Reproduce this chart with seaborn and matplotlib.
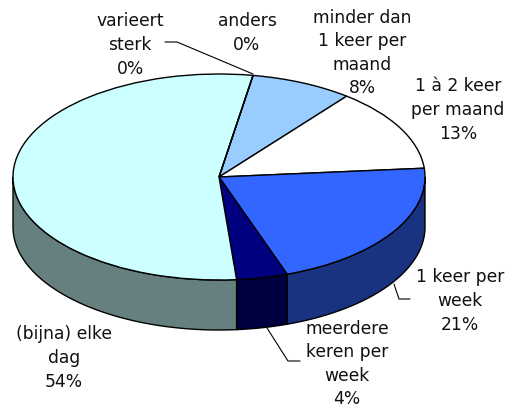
import numpy as np
import seaborn as sns
import matplotlib.pyplot as plt
from matplotlib.patches import Polygon

# values clockwise, starting at the top slice
slice_names = ["minder dan\n1 keer per\nmaand", "1 à 2 keer\nper maand", "1 keer per\nweek",
               "meerdere\nkeren per\nweek", "(bijna) elke\ndag", "varieert\nsterk", "anders"]
slice_values = [8, 13, 21, 4, 54, 0, 0]
top_colors = ["#99CCFF", "#FFFFFF", "#3366FF", "#000080", "#CCFFFF", "#FFFFFF", "#FFFFFF"]
side_colors = ["#4D6680", "#808080", "#1A3380", "#000040", "#668080", "#808080", "#808080"]

# label centres in pixels of the 515x410 picture
label_x = [362, 458, 460, 347, 64, 130, 247]
label_y = [53, 110, 301, 364, 358, 45, 33]

WIDTH, HEIGHT = 515, 410
CX, CY, RX, RY, DEPTH = 219, 178, 206, 103, 50
START = 80.5


def px(x, y):
    # picture pixels to pie units
    return (x - CX) / RX, (CY - y) / RY


sns.set_theme(style="white")
plt.rcParams['font.family'] = ['DejaVu Sans']

fig = plt.figure(figsize=(WIDTH / 100, HEIGHT / 100), dpi=100)
ax = fig.add_axes([0, 0, 1, 1])

depth = DEPTH / RY

# walls of the slices, only the front half can be seen
edges = START - np.cumsum([0] + slice_values) * 3.6
for i in range(len(slice_values)):
    a1, a2 = edges[i + 1], edges[i]
    # bring the front half (180..360) into the same turn as the slice
    shift = 360 * np.ceil((a1 - 360) / 360)
    lo = max(a1, 180 + shift)
    hi = min(a2, 360 + shift)
    if slice_values[i] == 0 or lo >= hi:
        continue
    t = np.radians(np.linspace(lo, hi, 80))
    top = np.column_stack([np.cos(t), np.sin(t)])
    low = top[::-1] - [0, depth]
    ax.add_patch(Polygon(np.vstack([top, low]), closed=True, facecolor=side_colors[i],
                         edgecolor="black", linewidth=1, zorder=1))

wedges, _ = ax.pie(slice_values, colors=top_colors, startangle=START, counterclock=False,
                   radius=1, wedgeprops={"edgecolor": "black", "linewidth": 1})
for w in wedges:
    w.set_zorder(2)

ax.set_aspect("auto")
ax.set_xlim(px(0, 0)[0], px(WIDTH, 0)[0])
ax.set_ylim(px(0, HEIGHT)[1], px(0, 0)[1])
ax.axis("off")

for name, value, x, y in zip(slice_names, slice_values, label_x, label_y):
    ax.text(*px(x, y), f"{name}\n{value}%", ha="center", va="center", fontsize=12.3,
            color="#111111", linespacing=1.4, zorder=5)

# leader lines
leaders = [[(165, 43), (177, 43), (253, 75)],
           [(410, 300), (399, 300), (394, 285)],
           [(300, 362), (288, 362), (267, 329)]]
for line in leaders:
    pts = np.array([px(*p) for p in line])
    ax.plot(pts[:, 0], pts[:, 1], color="black", linewidth=0.8, zorder=4)

plt.savefig("out.png", dpi=100)
